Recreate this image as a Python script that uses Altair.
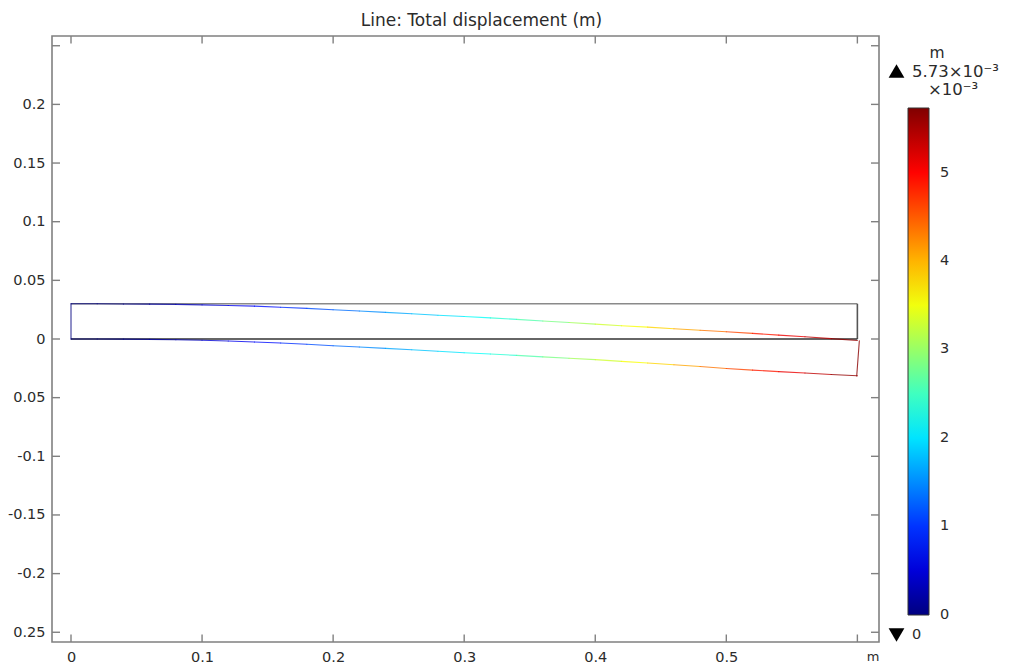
import altair as alt
import pandas as pd

title = "Line: Total displacement (m)"
x_vals = [0.00, 0.02, 0.04, 0.06, 0.08, 0.10, 0.12, 0.14, 0.16, 0.18, 0.20, 0.22, 0.24, 0.26, 0.28, 0.30,
          0.32, 0.34, 0.36, 0.38, 0.40, 0.42, 0.44, 0.46, 0.48, 0.50, 0.52, 0.54, 0.56, 0.58, 0.60]
top_edge = [.0300, .0300, .0299, .0297, .0295, .0291, .0286, .0280, .0271, .0261, .0249, .0239, .0227, .0215, .0203, .0192,
            .0180, .0167, .0154, .0141, .0127, .0113, .0101, .0088, .0075, .0062, .0048, .0033, .0019, .0003, -.0013]
bottom_edge = [0, 0, -.0001, -.0003, -.0007, -.0011, -.0017, -.0025, -.0034, -.0045, -.0057, -.0068, -.0080, -.0092, -.0104, -.0117,
               -.0128, -.0140, -.0152, -.0164, -.0176, -.0191, -.0205, -.0220, -.0235, -.0251, -.0265, -.0278, -.0290, -.0302, -.0313]
disp = [0, .02, .06, .13, .24, .38, .54, .70, .88, 1.07, 1.25, 1.42, 1.58, 1.74, 1.92, 2.08,
        2.28, 2.50, 2.72, 2.95, 3.20, 3.42, 3.68, 3.95, 4.22, 4.50, 4.75, 5.00, 5.25, 5.50, 5.73]
right_edge = [0.6015, -0.0015, 0.5995, -0.0315, 5.68]
left_edge = [0.0, 0.03, 0.0, 0.0, 0.0]
undeformed = [
    (0.0, 0.03, 0.6, 0.03, "#8a8a8a", 1.6),
    (0.6, 0.03, 0.6, 0.0, "#555555", 1.6),
    (0.0, 0.0, 0.6, 0.0, "#333333", 1.4),
]
x_ticks = [0, 0.1, 0.2, 0.3, 0.4, 0.5, 0.6]
y_ticks = [0.25, 0.2, 0.15, 0.1, 0.05, 0, -0.05, -0.1, -0.15, -0.2, -0.25]
y_tick_labels = ["", "0.2", "0.15", "0.1", "0.05", "0", "0.05", "-0.1", "-0.15", "-0.2", "0.25"]
x_tick_labels = ["0", "0.1", "0.2", "0.3", "0.4", "0.5", ""]
bar_ticks = [0, 1, 2, 3, 4, 5]
bar_max = 5.73
color_stops = [0, 0.716, 2.149, 3.581, 5.014, 5.73]
color_range = ["#000080", "#0000ff", "#00ffff", "#ffff00", "#ff0000", "#800000"]
x_dom = [-0.0145, 0.6165]
y_dom = [-0.2583, 0.2583]
tick_dx = 0.0061
tick_dy = 0.0064
FONT = "DejaVu Sans"
TXT = "#2b2b2b"

segs = []
for edge in (top_edge, bottom_edge):
    for i in range(len(x_vals) - 1):
        segs.append(dict(x=x_vals[i], y=edge[i], x2=x_vals[i + 1], y2=edge[i + 1],
                         v=(disp[i] + disp[i + 1]) / 2))
for e in (left_edge, right_edge):
    segs.append(dict(x=e[0], y=e[1], x2=e[2], y2=e[3], v=e[4]))
seg_df = pd.DataFrame(segs)
und_df = pd.DataFrame(undeformed, columns=["x", "y", "x2", "y2", "c", "w"])

label_x = "{" + ",".join(f'"{v}":"{t}"' for v, t in zip(x_ticks, x_tick_labels)) + "}[''+round(datum.value*10)/10]"
label_y = "{" + ",".join(f'"{v}":"{t}"' for v, t in zip(y_ticks, y_tick_labels)) + "}[''+round(datum.value*100)/100]"

X = alt.X("x:Q", scale=alt.Scale(domain=x_dom, nice=False, zero=False),
          axis=alt.Axis(values=x_ticks, labelExpr=label_x, title=None, grid=False, domain=False, ticks=False,
                        labelPadding=8, labelFontSize=14.5, labelFont=FONT, labelColor=TXT, labelOverlap=False,
                        labelFlush=False))
Y = alt.Y("y:Q", scale=alt.Scale(domain=y_dom, nice=False, zero=False), axis=None)

axes = alt.Chart(pd.DataFrame({"x": [x_ticks[0]], "y": [0]})).mark_point(opacity=0).encode(
    x=X,
    y=alt.Y("y:Q", scale=alt.Scale(domain=y_dom, nice=False, zero=False),
            axis=alt.Axis(values=y_ticks, labelExpr=label_y, title=None, grid=False, domain=False, ticks=False,
                          labelPadding=7, labelFontSize=14.5, labelFont=FONT, labelColor=TXT, labelOverlap=False,
                          labelFlush=False)),
)

und = alt.Chart(und_df).mark_rule().encode(
    x=X, y=Y, x2="x2:Q", y2="y2:Q",
    color=alt.Color("c:N", scale=None),
    strokeWidth=alt.StrokeWidth("w:Q", scale=None),
)

lines = alt.Chart(seg_df).mark_rule(strokeWidth=1.1, strokeCap="round", opacity=0.8).encode(
    x=X, y=Y, x2="x2:Q", y2="y2:Q",
    color=alt.Color("v:Q",
                    scale=alt.Scale(domain=color_stops, range=color_range, interpolate="rgb"),
                    legend=alt.Legend(orient="none", legendX=856, legendY=72, title=None,
                                      gradientLength=507, gradientThickness=21, gradientOpacity=1,
                                      gradientStrokeColor="#333333", gradientStrokeWidth=1,
                                      values=bar_ticks, labelOpacity=0, labelFontSize=1, format="d")),
)

x_tick_df = pd.DataFrame([
    dict(x=t, y=y_dom[0], y2=y_dom[0] + tick_dy) for t in x_ticks
] + [
    dict(x=t, y=y_dom[1], y2=y_dom[1] - tick_dy) for t in x_ticks
])
y_tick_df = pd.DataFrame([
    dict(x=x_dom[0], x2=x_dom[0] + tick_dx, y=t) for t in y_ticks
] + [
    dict(x=x_dom[1], x2=x_dom[1] - tick_dx, y=t) for t in y_ticks
])
xt = alt.Chart(x_tick_df).mark_rule(color="#808080", strokeWidth=1.4).encode(x=X, y=Y, y2="y2:Q")
yt = alt.Chart(y_tick_df).mark_rule(color="#808080", strokeWidth=1.4).encode(x=X, x2="x2:Q", y=Y)

# colour-bar tick marks, labels and annotations
bar_df = pd.DataFrame({"b": bar_ticks})
BY = alt.Y("b:Q", scale=alt.Scale(domain=[0, bar_max], range=[578.5, 72], nice=False, zero=False), axis=None)
bt1 = alt.Chart(bar_df[bar_df.b > 0]).mark_rule(color="#000000", opacity=0.6, strokeWidth=1).encode(
    y=BY, x=alt.value(856), x2=alt.value(860))
bt2 = alt.Chart(bar_df[bar_df.b > 0]).mark_rule(color="#000000", opacity=0.6, strokeWidth=1).encode(
    y=BY, x=alt.value(873), x2=alt.value(877))
bl = alt.Chart(bar_df).mark_text(align="left", baseline="middle", font=FONT, fontSize=14.5, color=TXT).encode(
    y=BY, x=alt.value(888), text="b:N")


def note(text, px, py, align="left", size=14.5):
    return alt.Chart(pd.DataFrame({"t": [text]})).mark_text(
        align=align, baseline="middle", font=FONT, fontSize=size, color=TXT, clip=False
    ).encode(text="t:N", x=alt.value(px), y=alt.value(py))


tri_up = alt.Chart(pd.DataFrame({"s": ["triangle-up"]})).mark_point(
    filled=True, color="black", opacity=1, size=250, shape="triangle-up", clip=False
).encode(x=alt.value(844.5), y=alt.value(35))
tri_dn = alt.Chart(pd.DataFrame({"s": ["triangle-down"]})).mark_point(
    filled=True, color="black", opacity=1, size=250, shape="triangle-down", clip=False
).encode(x=alt.value(844.5), y=alt.value(599))

chart = alt.layer(
    axes, und, lines, xt, yt, bt1, bt2, bl,
    note("m", 885, 17, "center", 15.5), note("5.73×10⁻³", 860, 36, size=16.5), note("×10⁻³", 901, 54, "center", 16.5),
    note("0", 860, 599), note("m", 821, 621, "center", 13), tri_up, tri_dn,
).resolve_scale(y="independent", x="shared").properties(
    width=827, height=606,
    title=alt.TitleParams(title, anchor="middle", dx=16, offset=5, fontSize=17, font=FONT,
                          fontWeight="normal", color=TXT),
    padding={"left": 44, "top": 28, "right": 125, "bottom": 24},
    autosize=alt.AutoSizeParams(type="none"),
    background="white",
).configure_view(stroke="#808080", strokeWidth=1.6)

chart.save("out.html", embed_options={"renderer": "svg", "actions": False})
